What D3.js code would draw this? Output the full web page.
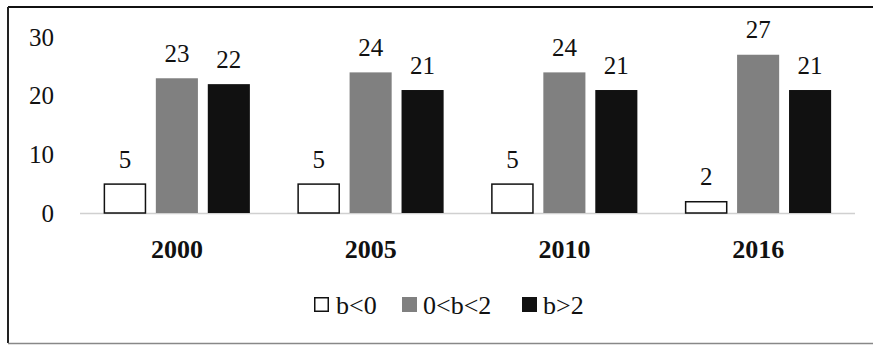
<!DOCTYPE html>
<html>
<head>
<meta charset="utf-8">
<script src="https://cdn.jsdelivr.net/npm/d3@7"></script>
<style>
  body { margin: 0; background: #fff; }
</style>
</head>
<body>
<script>
// chart data
var years = ["2000", "2005", "2010", "2016"];
var seriesNames = ["b<0", "0<b<2", "b>2"];
var bNeg = [5, 5, 5, 2];
var bMid = [23, 24, 24, 27];
var bHigh = [22, 21, 21, 21];
var yTicks = [0, 10, 20, 30];

var colors = ["#ffffff", "#808080", "#111111"];
var strokes = ["#111111", "none", "none"];
var font = "'Liberation Serif', 'DejaVu Serif', serif";

var w = 873, h = 345;
var svg = d3.select("body").append("svg")
    .attr("width", w)
    .attr("height", h)
    .style("font-family", font);

// outer frame
svg.append("line").attr("x1", 8).attr("x2", w).attr("y1", 7).attr("y2", 7)
    .style("stroke", "#111").style("stroke-width", 2);
svg.append("line").attr("x1", 8).attr("x2", 8).attr("y1", 7).attr("y2", 343)
    .style("stroke", "#222").style("stroke-width", 2);
svg.append("line").attr("x1", 8).attr("x2", w).attr("y1", 343.5).attr("y2", 343.5)
    .style("stroke", "#888").style("stroke-width", 1.5);

var x = d3.scaleBand().domain(years).range([80, 855]);
var x1 = d3.scaleBand().domain(seriesNames).range([0, 146]).paddingInner(0.19);
var y = d3.scaleLinear().domain([0, 30]).range([213, 36.6]);

var rows = years.map(function (yr, i) {
    return [bNeg[i], bMid[i], bHigh[i]];
});

// y tick labels
svg.append("g").selectAll("text")
    .data(yTicks)
    .enter().append("text")
    .attr("x", 54)
    .attr("y", d => y(d))
    .attr("dy", "0.36em")
    .attr("text-anchor", "end")
    .style("font-family", font)
    .style("font-size", "25px")
    .style("fill", "#111")
    .text(d => d);

// baseline
svg.append("line")
    .attr("x1", x.range()[0]).attr("x2", x.range()[1])
    .attr("y1", y(0) + 0.5).attr("y2", y(0) + 0.5)
    .style("stroke", "#d0d0d0").style("stroke-width", 1.5);

var groups = svg.append("g").selectAll("g")
    .data(rows)
    .enter().append("g")
    .attr("transform", (d, i) => "translate(" + (x(years[i]) + (x.bandwidth() - 146) / 2) + ",0)");

groups.selectAll("rect")
    .data(d => d)
    .enter().append("rect")
    .attr("x", (d, j) => x1(seriesNames[j]) + (j == 0 ? 0.5 : 0))
    .attr("y", d => y(d) + 0.5)
    .attr("width", (d, j) => x1.bandwidth() - (j == 0 ? 1 : 0))
    .attr("height", d => y(0) - y(d) - 0.5)
    .style("fill", (d, j) => colors[j])
    .style("stroke", (d, j) => strokes[j])
    .style("stroke-width", 1.5);

groups.selectAll("text")
    .data(d => d)
    .enter().append("text")
    .attr("x", (d, j) => x1(seriesNames[j]) + x1.bandwidth() / 2)
    .attr("y", d => y(d) - 16)
    .attr("text-anchor", "middle")
    .style("font-family", font)
    .style("font-size", "25px")
    .style("fill", "#111")
    .text(d => d);

// category labels
svg.append("g").selectAll("text")
    .data(years)
    .enter().append("text")
    .attr("x", d => x(d) + x.bandwidth() / 2)
    .attr("y", 258)
    .attr("text-anchor", "middle")
    .style("font-family", font)
    .style("font-size", "26px")
    .style("font-weight", "bold")
    .style("fill", "#111")
    .text(d => d);

// legend
var legendX = [314, 402, 522];
var legend = svg.append("g").selectAll("g")
    .data(seriesNames)
    .enter().append("g")
    .attr("transform", (d, i) => "translate(" + legendX[i] + ",297)");

legend.append("rect")
    .attr("x", (d, i) => i == 0 ? 0.75 : 0)
    .attr("y", (d, i) => i == 0 ? 0.75 : 0)
    .attr("width", (d, i) => i == 0 ? 13.5 : 15)
    .attr("height", (d, i) => i == 0 ? 13.5 : 15)
    .style("fill", (d, i) => colors[i])
    .style("stroke", (d, i) => strokes[i])
    .style("stroke-width", 1.5);

legend.append("text")
    .attr("x", (d, i) => i == 0 ? 22 : 21)
    .attr("y", 7.5)
    .attr("dy", "0.36em")
    .style("font-family", font)
    .style("font-size", "26px")
    .style("fill", "#111")
    .text(d => d);
</script>
</body>
</html>
